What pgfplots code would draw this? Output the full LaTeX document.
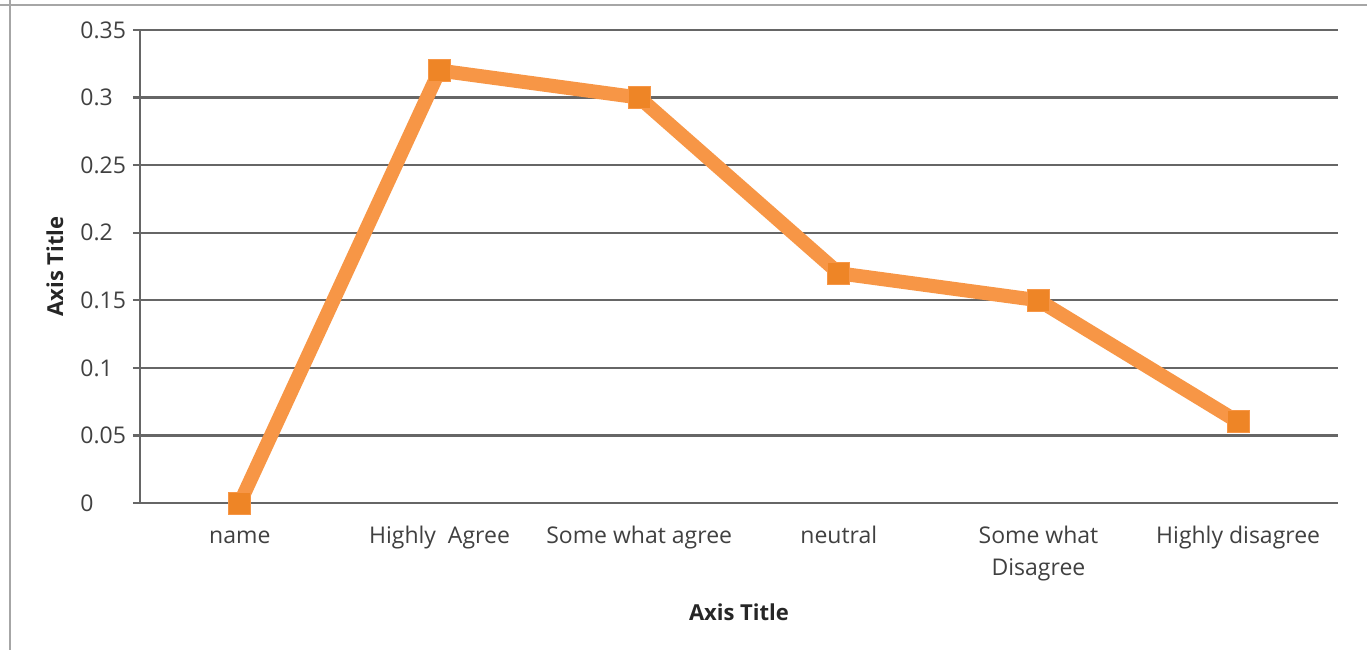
\documentclass[border=0pt]{standalone}
\usepackage{pgfplots}
\pgfplotsset{compat=1.18}
\usepackage{fontspec}
\setmainfont{Open Sans}
\definecolor{lineor}{HTML}{F79646}
\definecolor{markor}{HTML}{EE8526}
\definecolor{gridc}{HTML}{666666}
\definecolor{framec}{HTML}{A6A6A6}
\definecolor{txt}{HTML}{404040}
\begin{document}
\begin{tikzpicture}[x=1pt,y=1pt]
\useasboundingbox (0,0) rectangle (683.5,325);
\draw[framec,line width=1.2pt] (0,322.5) -- (683.5,322.5);
\draw[framec,line width=1.2pt] (5,325) -- (5,0);
\begin{axis}[
  at={(70pt,73.5pt)}, anchor=south west,
  scale only axis, width=599pt, height=236.5pt,
  xmin=-0.5, xmax=5.5, ymin=0, ymax=0.35,
  ytick={0,0.05,0.1,0.15,0.2,0.25,0.3,0.35},
  yticklabels={0,0.05,0.1,0.15,0.2,0.25,0.3,0.35},
  xtick={0,1,2,3,4,5},
  xticklabels={name,Highly\ \ Agree,Some what agree,neutral,{\begin{tabular}[t]{@{}c@{}}Some what\\Disagree\end{tabular}},Highly disagree},
  axis x line=bottom, axis y line=left,
  axis line style={-, draw=gridc, line width=1.2pt},
  ymajorgrids, grid style={draw=gridc, line width=1.2pt},
  tick align=outside, major tick length=3.5pt,
  ytick style={draw=gridc, line width=1.2pt},
  xtick style={draw=none},
  yticklabel style={anchor=west, inner sep=0pt, xshift=-26.5pt, font=\fontsize{11.5}{14}\selectfont, text=txt},
  xticklabel style={anchor=base, inner sep=0pt, yshift=-16.5pt, font=\fontsize{11.5}{16}\selectfont, text=txt},
  xlabel={Axis Title}, ylabel={Axis Title},
  every axis x label/.style={at={(axis description cs:0.5,-0.2304)}, anchor=center, font=\bfseries\fontsize{11}{13}\selectfont, text=black!85},
  every axis y label/.style={at={(axis description cs:-0.0710,0.5)}, anchor=center, rotate=90, font=\bfseries\fontsize{11}{13}\selectfont, text=black!85},
  clip=false,
]
\addplot[color=lineor, line width=7pt, line join=round,
  mark=square*, mark size=5.5pt, mark options={fill=markor, draw=none, line width=0pt}]
  coordinates {(0,0) (1,0.32) (2,0.30) (3,0.17) (4,0.15) (5,0.06)};
\end{axis}
\end{tikzpicture}
\end{document}
